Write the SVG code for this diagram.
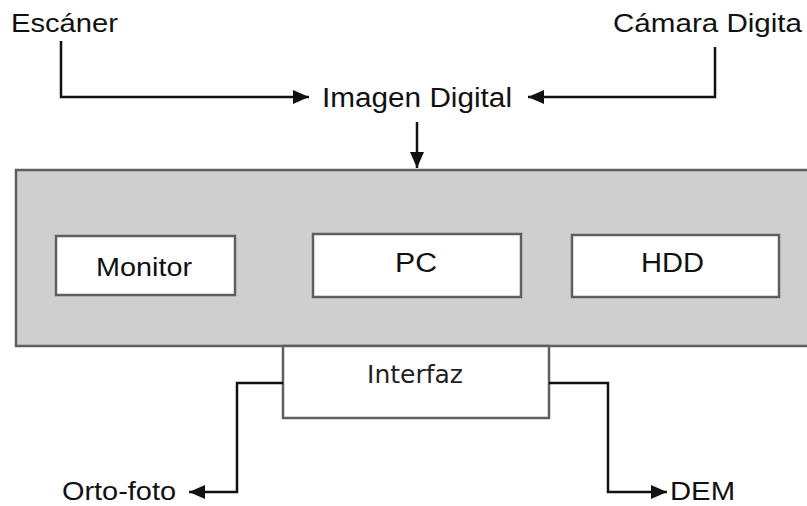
<svg xmlns="http://www.w3.org/2000/svg" width="807" height="506" viewBox="0 0 807 506">
<defs>
<style>
.t{font-family:"Liberation Sans",Arial,sans-serif;fill:#111;}
.box{fill:#fff;stroke:#5f5f5f;stroke-width:2.5;}
.c{fill:none;stroke:#111;stroke-width:2.5;}
</style>
<marker id="ah" markerUnits="userSpaceOnUse" markerWidth="17" markerHeight="15" refX="16" refY="7" orient="auto">
<path d="M0,0 L16,7 L0,14 z" fill="#111"/>
</marker>
</defs>
<rect width="807" height="506" fill="#fff"/>
<g id="sistema">
<rect x="16" y="170" width="810" height="176" fill="#cfcfcf" stroke="#5f5f5f" stroke-width="2.5"/>
</g>
<g id="interfaz">
<rect class="box" x="283" y="346" width="266" height="72"/>
<text x="367" y="383" font-family="'DejaVu Sans',sans-serif" font-size="24" fill="#222" textLength="96" lengthAdjust="spacingAndGlyphs">Interfaz</text>
</g>
<g id="monitor">
<rect class="box" x="56" y="236" width="179" height="59"/>
<text class="t" x="96" y="276" font-size="26" textLength="96" lengthAdjust="spacingAndGlyphs">Monitor</text>
</g>
<g id="pc">
<rect class="box" x="313" y="234" width="208" height="63"/>
<text class="t" x="395" y="272" font-size="27" textLength="42" lengthAdjust="spacingAndGlyphs">PC</text>
</g>
<g id="hdd">
<rect class="box" x="572" y="235" width="207" height="62"/>
<text class="t" x="641" y="272" font-size="28" textLength="63" lengthAdjust="spacingAndGlyphs">HDD</text>
</g>
<g id="escaner">
<text class="t" x="11" y="32" font-size="25" textLength="107" lengthAdjust="spacingAndGlyphs">Escáner</text>
</g>
<g id="camara">
<text class="t" x="613" y="32" font-size="25" textLength="189" lengthAdjust="spacingAndGlyphs">Cámara Digita</text>
</g>
<g id="imagen">
<text class="t" x="322" y="107" font-size="27" textLength="190" lengthAdjust="spacingAndGlyphs">Imagen Digital</text>
</g>
<g id="ortofoto">
<text class="t" x="62" y="500" font-size="25" textLength="114" lengthAdjust="spacingAndGlyphs">Orto-foto</text>
</g>
<g id="dem">
<text class="t" x="670" y="500" font-size="26" textLength="65" lengthAdjust="spacingAndGlyphs">DEM</text>
</g>
<g id="connectors">
<path class="c" d="M61,41 V97 H309" marker-end="url(#ah)"/>
<path class="c" d="M715,47 V97 H528" marker-end="url(#ah)"/>
<path class="c" d="M417,122 V168" marker-end="url(#ah)"/>
<path class="c" d="M283,383 H237 V492 H189" marker-end="url(#ah)"/>
<path class="c" d="M549,383 H608 V492 H667" marker-end="url(#ah)"/>
</g>
</svg>
